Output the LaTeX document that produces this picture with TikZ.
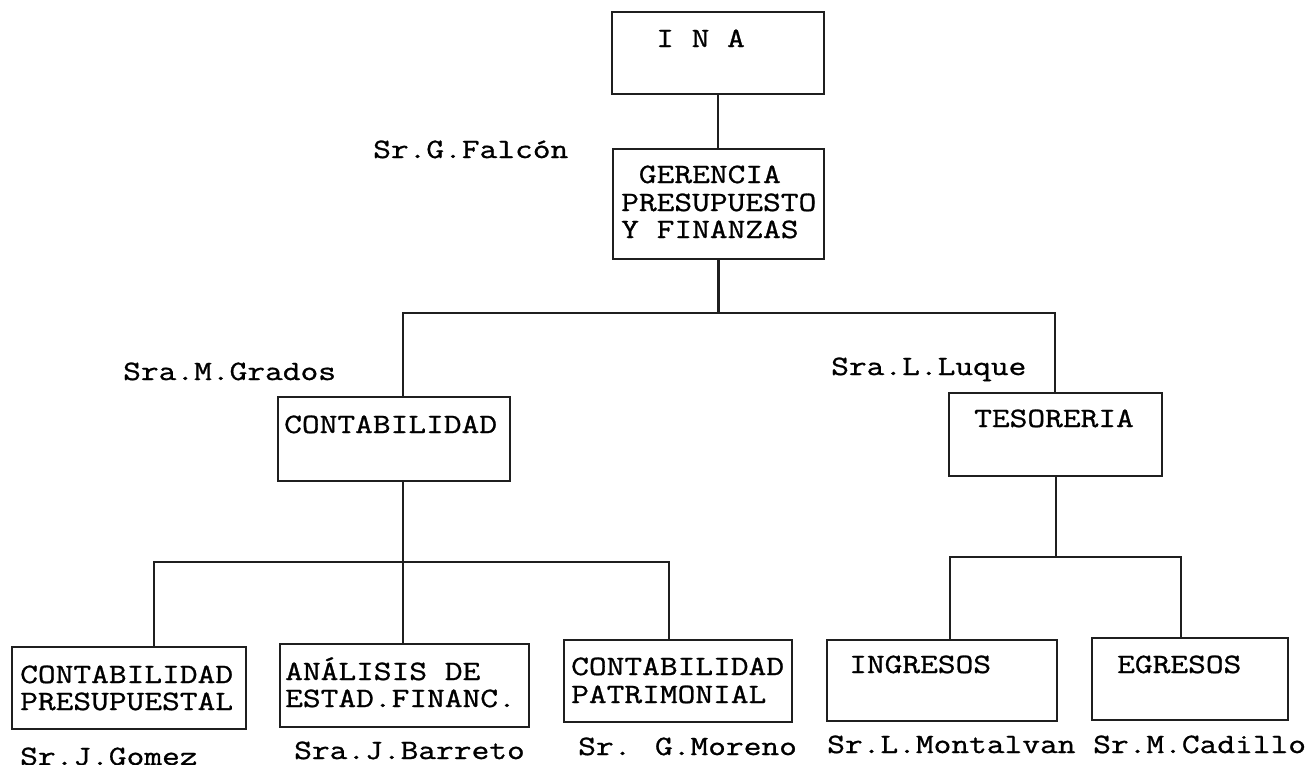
\documentclass[tikz,border=0pt]{standalone}
\usepackage{fontspec}
\newfontfamily\orgfont{Latin Modern Mono}[FakeStretch=1.23,FakeBold=1.0]
\begin{document}
\begin{tikzpicture}[x=1pt,y=-1pt,
  box/.style 2 args={draw=black!88,line width=2.9pt,minimum width=#1,minimum height=#2,inner sep=0pt},
  link/.style={draw=black!88,line width=2.7pt},
  txt/.style={anchor=base west,inner sep=0pt,text=black,font=\orgfont\fontsize{28}{27.5}\selectfont}]
\useasboundingbox (0,0) rectangle (1311,764);

% --- boxes of the chart
\node[box={212}{82}]  (ina)   at (718,53)     {};
\node[box={211}{110}] (ger)   at (718.5,204)  {};
\node[box={232}{84}]  (cont)  at (394,439)    {};
\node[box={213}{83}]  (teso)  at (1055.5,434.5) {};
\node[box={234}{82}]  (cpres) at (129,688)    {};
\node[box={249}{83}]  (anal)  at (404.5,685.5) {};
\node[box={228}{82}]  (cpat)  at (678,681)    {};
\node[box={230}{81}]  (ingr)  at (942,680.5)  {};
\node[box={196}{82}]  (egr)   at (1190,679)   {};

% --- box captions
\node[txt] (ina-t)   at (656,47)  {I N A};
\node[txt] (ger-t1)  at (621,183) {\ GERENCIA};
\node[txt] (ger-t2)  at (621,211) {PRESUPUESTO};
\node[txt] (ger-t3)  at (621,238) {Y FINANZAS};
\node[txt] (cont-t)  at (284,433) {CONTABILIDAD};
\node[txt] (teso-t)  at (974,427) {TESORERIA};
\node[txt] (cpres-t1) at (20,683) {CONTABILIDAD};
\node[txt] (cpres-t2) at (20,710) {PRESUPUESTAL};
\node[txt] (anal-t1) at (285,680) {ANÁLISIS DE};
\node[txt] (anal-t2) at (285,707) {ESTAD.FINANC.};
\node[txt] (cpat-t1) at (571,675) {CONTABILIDAD};
\node[txt] (cpat-t2) at (571,703) {PATRIMONIAL};
\node[txt] (ingr-t)  at (849,673) {INGRESOS};
\node[txt] (egr-t)   at (1117,673) {EGRESOS};

% --- names of the people in charge
\node[txt] (falcon)    at (373,158) {Sr.G.Falcón};
\node[txt] (grados)    at (123,380) {Sra.M.Grados};
\node[txt] (luque)     at (831,375) {Sra.L.Luque};
\node[txt] (gomez)     at (20,765)  {Sr.J.Gomez};
\node[txt] (barreto)   at (294,759) {Sra.J.Barreto};
\node[txt] (moreno)    at (578,755) {Sr. G.Moreno};
\node[txt] (montalvan) at (827,753) {Sr.L.Montalvan};
\node[txt] (cadillo)   at (1093,753) {Sr.M.Cadillo};

% --- junction points of the connector buses
\coordinate (busL) at (403,313);
\coordinate (busR) at (1055,313);
\coordinate (cbL) at (154,562);
\coordinate (cbM) at (403,562);
\coordinate (cbR) at (669,562);
\coordinate (tbL) at (950,557);
\coordinate (tbM) at (1056,557);
\coordinate (tbR) at (1181,557);

% --- connectors
\draw[link] (ina.south) -- (ina.south |- ger.north);
\draw[link] (ger.south) -- (ger.south |- busL);
\draw[link] (cont.north -| busL) -- (busL) -- (busR) -- (teso.north -| busR);

\draw[link] (cont.south -| cbM) -- (cbM);
\draw[link] (cpres.north -| cbL) -- (cbL) -- (cbR) -- (cpat.north -| cbR);
\draw[link] (cbM) -- (anal.north -| cbM);

\draw[link] (teso.south -| tbM) -- (tbM);
\draw[link] (ingr.north -| tbL) -- (tbL) -- (tbR) -- (egr.north -| tbR);
\end{tikzpicture}
\end{document}
